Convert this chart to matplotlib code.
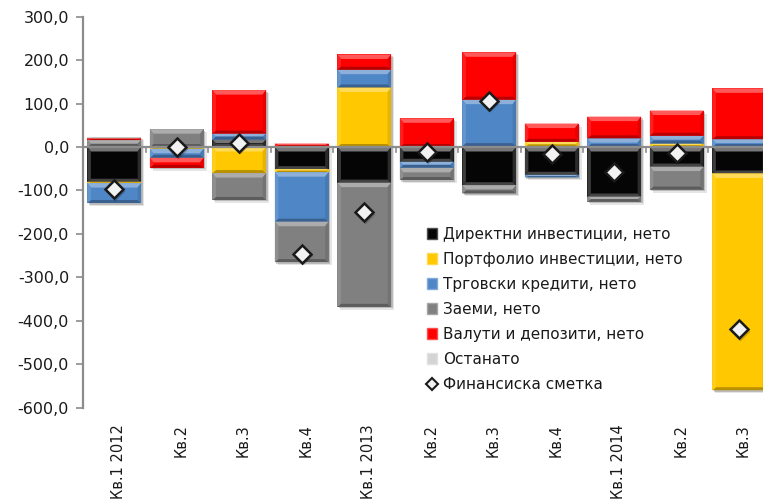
import matplotlib
matplotlib.use("Agg")
import matplotlib.pyplot as plt
import matplotlib.transforms as mtransforms
from matplotlib.patches import Polygon, Rectangle, Patch
from matplotlib.lines import Line2D
import numpy as np

plt.rcParams['font.family'] = ['DejaVu Sans']

# Quarterly components of the financial account (млн. евра)
categories = ['Кв.1 2012', 'Кв.2', 'Кв.3', 'Кв.4', 'Кв.1 2013', 'Кв.2',
              'Кв.3', 'Кв.4', 'Кв.1 2014', 'Кв.2', 'Кв.3']
direct = [-80, 0, 17, -51, -82, -34, -88, -64, -114, -45, -61]
portfolio = [-3, -4, -60, -7, 137, 0, 2, 12, 0, 8, -499]
trade = [-46, -21, 14, -114, 41, -14, 107, -6, 20, 18, 18]
loans = [16, 41, -62, -93, -286, -28, -19, 0, -12, -53, 0]
currency = [4, -23, 100, 8, 35, 66, 109, 42, 50, 58, 117]
other = [3, 0, 0, 0, 0, 0, 0, 0, 0, 0, 0]
financial_account = [-97, 0, 10, -246, -150, -12, 107, -15, -58, -13, -420]

series_names = ['Директни инвестиции, нето', 'Портфолио инвестиции, нето',
                'Трговски кредити, нето', 'Заеми, нето',
                'Валути и депозити, нето', 'Останато']
series_values = [direct, portfolio, trade, loans, currency, other]
series_colors = ['#050505', '#FFC800', '#4F86C6', '#808080', '#FF0000', '#D4D4D4']
line_name = 'Финансиска сметка'

y_ticks = list(range(-600, 301, 100))

W, H, DPI = 763, 504, 100
fig = plt.figure(figsize=(W / DPI, H / DPI), dpi=DPI)
ax_left, ax_right, ax_top, ax_bottom = 83, 770.5, 16.7, 407.6
ax = fig.add_axes([ax_left / W, 1 - ax_bottom / H,
                   (ax_right - ax_left) / W, (ax_bottom - ax_top) / H])
ymin, ymax = -600, 300
n = len(categories)
ax.set_xlim(-0.5, n - 0.5)
ax.set_ylim(ymin, ymax)

# data units per pixel
dx_px = n / (ax_right - ax_left)
dy_px = (ymax - ymin) / (ax_bottom - ax_top)

x = np.arange(n)
width = 0.86


def blend(c, target, t):
    c = np.array(matplotlib.colors.to_rgb(c))
    target = np.array(matplotlib.colors.to_rgb(target))
    return tuple(c * (1 - t) + target * t)


def bevel(x0, x1, y0, y1, color):
    """Draw a bevelled block: lighter top, darker bottom edges."""
    h = y1 - y0
    bx = min(3.5 * dx_px, (x1 - x0) / 2)
    byt = min(4.5 * dy_px, h / 2)
    byb = min(3 * dy_px, h / 2)
    is_dark = matplotlib.colors.to_rgb(color)[0] < 0.2
    top_c = blend(color, 'white', 0.45 if is_dark else 0.35)
    side_l = blend(color, 'white', 0.22 if is_dark else 0.12)
    side_r = blend(color, 'white', 0.15) if is_dark else blend(color, 'black', 0.10)
    bot_c = blend(color, 'white', 0.25) if is_dark else blend(color, 'black', 0.28)
    ax.add_patch(Rectangle((x0, y0), x1 - x0, h, facecolor=color,
                           edgecolor='none', zorder=3))
    polys = [
        ([(x0, y1), (x1, y1), (x1 - bx, y1 - byt), (x0 + bx, y1 - byt)], top_c),
        ([(x0, y0), (x1, y0), (x1 - bx, y0 + byb), (x0 + bx, y0 + byb)], bot_c),
        ([(x0, y0), (x0, y1), (x0 + bx, y1 - byt), (x0 + bx, y0 + byb)], side_l),
        ([(x1, y0), (x1, y1), (x1 - bx, y1 - byt), (x1 - bx, y0 + byb)], side_r),
    ]
    for pts, c in polys:
        ax.add_patch(Polygon(pts, closed=True, facecolor=c, edgecolor='none',
                             zorder=4))


pos_cum = np.zeros(n)
neg_cum = np.zeros(n)
for vals, color in zip(series_values, series_colors):
    for i, v in enumerate(vals):
        if v == 0:
            continue
        x0, x1 = x[i] - width / 2, x[i] + width / 2
        if v > 0:
            y0, y1 = pos_cum[i], pos_cum[i] + v
            pos_cum[i] += v
        else:
            y0, y1 = neg_cum[i] + v, neg_cum[i]
            neg_cum[i] += v
        bevel(x0, x1, y0, y1, color)

# soft drop shadow behind each stacked column
for i in range(n):
    for k, a in ((1.5, 0.18), (3.0, 0.10)):
        ax.add_patch(Rectangle((x[i] - width / 2 + k * dx_px, neg_cum[i] - k * dy_px),
                               width, pos_cum[i] - neg_cum[i],
                               facecolor=(0, 0, 0, a), edgecolor='none', zorder=2))

# zero line with category separator ticks
ax.axhline(0, color='#8C8C8C', lw=1.6, zorder=5)
for b in np.arange(n + 1) - 0.5:
    ax.plot([b, b], [0, -4.5 * dy_px], color='#8C8C8C', lw=1.2, zorder=5,
            clip_on=False)

# financial account markers
ax.plot(x, financial_account, linestyle='none', marker='D', markersize=9,
        markerfacecolor='#F2F2F2', markeredgecolor='#1A1A1A', markeredgewidth=1.8,
        zorder=7)
ax.plot(x + 1.2 * dx_px, np.array(financial_account) - 1.5 * dy_px,
        linestyle='none', marker='D', markersize=10,
        markerfacecolor=(0, 0, 0, 0.2), markeredgecolor='none', zorder=6)

# axes styling
for s in ['top', 'right', 'bottom']:
    ax.spines[s].set_visible(False)
ax.spines['left'].set_color('#8C8C8C')
ax.spines['left'].set_linewidth(1.6)
ax.set_yticks(y_ticks)
ax.set_yticklabels([f"{v:.1f}".replace('.', ',') for v in y_ticks],
                   fontsize=11.5, color='#1A1A1A')
ax.tick_params(axis='y', length=5, width=1.2, color='#8C8C8C', pad=5)
ax.set_xticks(x)
ax.set_xticklabels(categories, rotation=90, fontsize=10.5, color='#1A1A1A',
                   va='top', ha='center')
ax.tick_params(axis='x', length=0, pad=12)
shift = mtransforms.ScaledTranslation(4 / DPI, 0, fig.dpi_scale_trans)
for lab in ax.get_xticklabels():
    lab.set_transform(lab.get_transform() + shift)

# legend
handles = [Patch(facecolor=c, edgecolor=blend(c, 'white', 0.3), linewidth=1.0)
           for c in series_colors]
handles.append(Line2D([], [], linestyle='none', marker='D', markersize=6,
                      markerfacecolor='#F2F2F2', markeredgecolor='#1A1A1A',
                      markeredgewidth=1.5))
leg = ax.legend(handles, series_names + [line_name], loc='upper left',
                bbox_to_anchor=(416 / W, 1 - 216 / H),
                bbox_transform=fig.transFigure, frameon=False, fontsize=11,
                handlelength=0.7, handleheight=0.7, handletextpad=0.35,
                labelspacing=0.66, borderpad=0.2)
for t in leg.get_texts():
    t.set_color('#1A1A1A')

fig.savefig('out.png', dpi=DPI)
